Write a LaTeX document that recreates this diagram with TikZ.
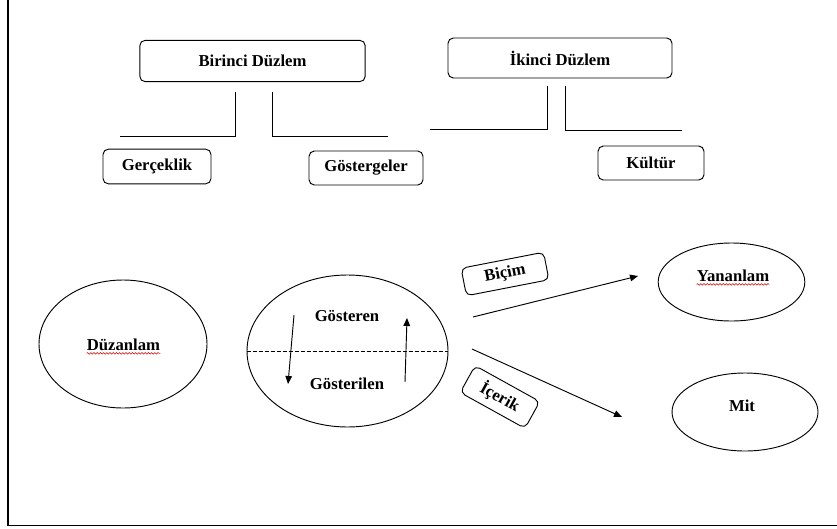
\documentclass[tikz,border=0pt]{standalone}
\usepackage{fontspec}
\setmainfont{Liberation Serif}
\usetikzlibrary{shapes.geometric,arrows.meta,decorations.pathmorphing}
\tikzstyle{box} = [rectangle, draw, rounded corners=4pt, line width=0.7pt,
    inner sep=0pt, font=\fontsize{12.5}{15}\selectfont\bfseries]
\tikzstyle{oval} = [ellipse, draw, line width=0.7pt, inner sep=0pt,
    font=\fontsize{12.5}{15}\selectfont\bfseries]
\tikzstyle{word} = [inner sep=0pt, font=\fontsize{12.5}{15}\selectfont\bfseries]
\tikzstyle{line} = [line width=0.7pt]
\tikzstyle{arrow} = [line width=0.7pt, -{Triangle[length=6pt,width=5pt]}]
\tikzstyle{squiggle} = [red!85!black, line width=0.4pt, decorate,
    decoration={snake, amplitude=0.6pt, segment length=2.4pt}]

\begin{document}
\begin{tikzpicture}[x=0.75pt,y=-0.75pt]
  \useasboundingbox (0,0) rectangle (837,528);
  % Frame
  \draw[line width=1.4pt] (8,0) -- (8,525.5) -- (837,525.5);
  % Place boxes
  \node [box, minimum width=169pt, minimum height=31pt] (birinci) at (252.5,61) {Birinci Düzlem};
  \node [box, minimum width=168pt, minimum height=30pt] (ikinci) at (560,58) {İkinci Düzlem};
  \node [box, minimum width=81pt, minimum height=26pt] (gerceklik) at (157,166.5) {Gerçeklik};
  \node [box, minimum width=85.5pt, minimum height=25.5pt] (gostergeler) at (366,168) {Göstergeler};
  \node [box, minimum width=79.5pt, minimum height=25.5pt] (kultur) at (651,163) {Kültür};
  % Branches under the two planes
  \coordinate (b1l) at (235,92);  \coordinate (b1lc) at (235,136); \coordinate (b1le) at (120,136);
  \coordinate (b1r) at (272,92);  \coordinate (b1rc) at (272,136); \coordinate (b1re) at (388,136);
  \coordinate (b2l) at (547,86);  \coordinate (b2lc) at (547,129); \coordinate (b2le) at (430,129);
  \coordinate (b2r) at (565,86);  \coordinate (b2rc) at (565,130); \coordinate (b2re) at (682,130);
  \draw[line] (b1l) -- (b1lc) -- (b1le);
  \draw[line] (b1r) -- (b1rc) -- (b1re);
  \draw[line] (b2l) -- (b2lc) -- (b2le);
  \draw[line] (b2r) -- (b2rc) -- (b2re);
  % Place ellipses
  \node [oval, minimum width=126pt, minimum height=96pt] (duzanlam) at (123,344) {};
  \node [oval, minimum width=150.75pt, minimum height=114pt] (gosterge) at (347.5,351) {};
  \node [oval, minimum width=110pt, minimum height=58.5pt] (yananlam) at (731.5,282) {};
  \node [oval, minimum width=109.5pt, minimum height=58.5pt] (mit) at (745,412) {};
  \node [word] (duztext) at (123.5,345) {Düzanlam};
  \node [word] (yantext) at (733,276) {Yananlam};
  \node [word] (mittext) at (742,406) {Mit};
  \draw[squiggle] ([yshift=-2pt]duztext.base west) -- ([yshift=-2pt]duztext.base east);
  \draw[squiggle] ([yshift=-2pt]yantext.base west) -- ([yshift=-2pt]yantext.base east);
  % Inside the sign
  \node [word] (gosteren) at (347,316) {Gösteren};
  \node [word] (gosterilen) at (347,384) {Gösterilen};
  \draw[line, dashed, dash pattern=on 3pt off 1.5pt] (gosterge.west) -- (gosterge.east);
  \coordinate (d1) at (294,315); \coordinate (d2) at (288,384);
  \coordinate (u1) at (405,382); \coordinate (u2) at (407,318);
  \draw[arrow] (d1) -- (d2);
  \draw[arrow] (u1) -- (u2);
  % Draw edges
  \coordinate (bs) at (473,317); \coordinate (be) at (638,276);
  \coordinate (is) at (472,349); \coordinate (ie) at (622,417);
  \draw[arrow] (bs) -- (be);
  \draw[arrow] (is) -- (ie);
  \node [box, rotate=11, minimum width=63pt, minimum height=21pt] (bicim) at (505,274) {Biçim};
  \node [box, rotate=-29, minimum width=55.5pt, minimum height=23pt] (icerik) at (500,397) {İçerik};
\end{tikzpicture}
\end{document}
